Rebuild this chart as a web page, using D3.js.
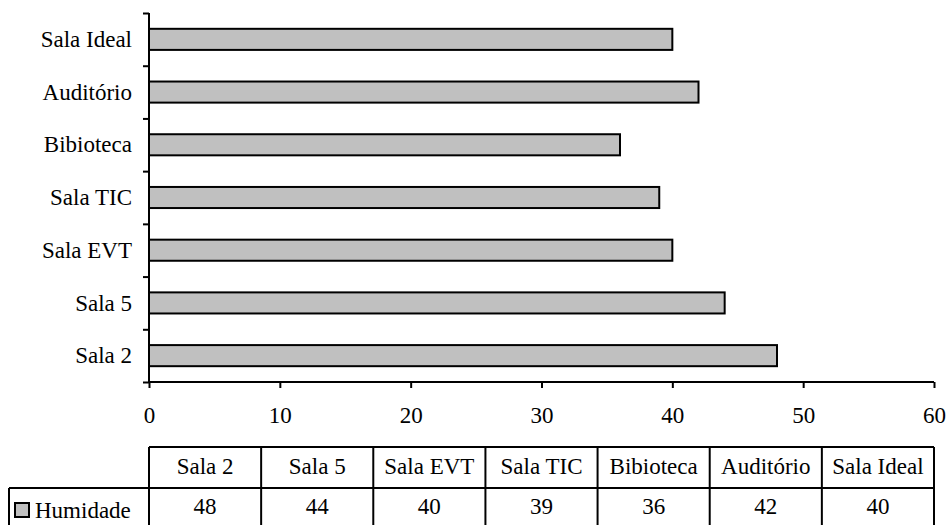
<!DOCTYPE html>
<html>
<head>
<meta charset="utf-8">
<script src="https://cdn.jsdelivr.net/npm/d3@7"></script>
<style>
  body { margin: 0; background: #fff; }
  svg text { font-family: "Liberation Serif", serif; font-size: 23px; fill: #000; }
  .axis path, .axis line { stroke: #000; stroke-width: 2px; }
</style>
</head>
<body>
<svg id="chart"></svg>
<script>
// Data
const rooms = ['Sala 2', 'Sala 5', 'Sala EVT', 'Sala TIC', 'Bibioteca', 'Auditório', 'Sala Ideal'];
const humidity = [48, 44, 40, 39, 36, 42, 40];
const seriesName = 'Humidade';
const xTicks = [0, 10, 20, 30, 40, 50, 60];

class HumidityBars {
    constructor(_config, _data) {
        this.config = {
            parentElement: _config.parentElement,
            containerWidth: _config.containerWidth || 949,
            containerHeight: _config.containerHeight || 525,
            plotLeft: 149,
            plotRight: 934,
            plotTop: 13,
            plotBottom: 382,
            tableTop: 447,
            rowDivider: 488,
            tableLeft: 9
        };
        this.data = _data;
        this.initVis();
    }

    initVis() {
        let vis = this;
        const c = vis.config;

        vis.svg = d3.select(c.parentElement)
            .attr('width', c.containerWidth)
            .attr('height', c.containerHeight);

        vis.xScale = d3.scaleLinear()
            .domain([0, 60])
            .range([c.plotLeft, c.plotRight]);

        // top category is the last one (Sala Ideal), like Excel's bar chart
        vis.yScale = d3.scaleBand()
            .domain(rooms.slice().reverse())
            .range([c.plotTop, c.plotBottom])
            .paddingInner(0.6)
            .paddingOuter(0.3);

        // ticks sit between the categories
        vis.yBoundary = d3.scaleLinear()
            .domain([0, rooms.length])
            .range([c.plotBottom, c.plotTop]);

        vis.xAxis = d3.axisBottom(vis.xScale)
            .tickValues(xTicks)
            .tickSize(6)
            .tickSizeOuter(0)
            .tickPadding(19);

        vis.yAxis = d3.axisLeft(vis.yBoundary)
            .tickValues(d3.range(0, rooms.length + 1))
            .tickSize(6)
            .tickSizeOuter(0)
            .tickFormat('');

        vis.renderVis();
    }

    renderVis() {
        let vis = this;
        const c = vis.config;

        // bars
        vis.svg.selectAll('.bar')
            .data(vis.data)
            .join('rect')
            .attr('class', 'bar')
            .attr('x', vis.xScale(0))
            .attr('y', d => vis.yScale(d.room))
            .attr('width', d => vis.xScale(d.value) - vis.xScale(0))
            .attr('height', vis.yScale.bandwidth())
            .style('fill', '#c0c0c0')
            .style('stroke', '#000')
            .style('stroke-width', 2);

        vis.svg.append('g')
            .attr('class', 'axis x-axis')
            .attr('transform', `translate(0,${c.plotBottom})`)
            .call(vis.xAxis)
            .call(g => g.select('.domain').attr('d', `M${c.plotLeft},0H${c.plotRight}`));

        vis.svg.append('g')
            .attr('class', 'axis y-axis')
            .attr('transform', `translate(${c.plotLeft},0)`)
            .call(vis.yAxis)
            .call(g => g.select('.domain').attr('d', `M0,${c.plotTop}V${c.plotBottom}`));

        vis.svg.selectAll('.x-axis text, .y-axis text')
            .style('font-family', '"Liberation Serif", serif')
            .style('font-size', '23px');

        // category labels
        vis.svg.selectAll('.cat-label')
            .data(vis.data)
            .join('text')
            .attr('class', 'cat-label')
            .attr('x', c.plotLeft - 17)
            .attr('y', d => vis.yScale(d.room) + vis.yScale.bandwidth() / 2)
            .attr('dy', '0.33em')
            .attr('text-anchor', 'end')
            .text(d => d.room);

        // data table underneath
        const colW = (c.plotRight - c.plotLeft) / rooms.length;
        const table = vis.svg.append('g').attr('class', 'data-table');
        const line = (x1, y1, x2, y2) => table.append('line')
            .attr('x1', x1).attr('y1', y1).attr('x2', x2).attr('y2', y2)
            .style('stroke', '#000').style('stroke-width', 2);

        line(c.plotLeft, c.tableTop, c.plotRight, c.tableTop);
        line(c.tableLeft, c.rowDivider, c.plotRight, c.rowDivider);
        line(c.tableLeft, c.rowDivider, c.tableLeft, c.containerHeight + 5);
        d3.range(rooms.length + 1).forEach(i => {
            const x = c.plotLeft + i * colW;
            line(x, c.tableTop, x, c.containerHeight + 5);
        });

        table.selectAll('.hdr')
            .data(vis.data)
            .join('text')
            .attr('class', 'hdr')
            .attr('x', (d, i) => c.plotLeft + (i + 0.5) * colW)
            .attr('y', 474)
            .attr('text-anchor', 'middle')
            .text(d => d.room);

        table.selectAll('.val')
            .data(vis.data)
            .join('text')
            .attr('class', 'val')
            .attr('x', (d, i) => c.plotLeft + (i + 0.5) * colW)
            .attr('y', 514)
            .attr('text-anchor', 'middle')
            .text(d => d.value);

        // legend key
        table.append('rect')
            .attr('x', 15)
            .attr('y', 503)
            .attr('width', 14)
            .attr('height', 14)
            .style('fill', '#c0c0c0')
            .style('stroke', '#000')
            .style('stroke-width', 2);

        table.append('text')
            .attr('x', 35)
            .attr('y', 518)
            .text(seriesName);
    }
}

const data = rooms.map((room, i) => ({ room: room, value: humidity[i] }));
new HumidityBars({ parentElement: '#chart' }, data);
</script>
</body>
</html>
